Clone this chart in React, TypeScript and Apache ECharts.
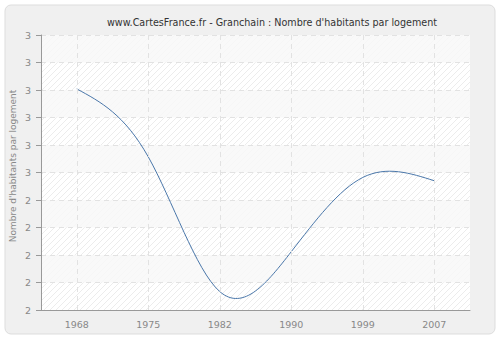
import React, { useEffect, useRef } from "react";
import * as echarts from "echarts";

const years = ["1968", "1975", "1982", "1990", "1999", "2007"];
const values = [2.804, 2.557, 2.067, 2.212, 2.482, 2.47];
const yMin = 2.0;
const yMax = 3.0;
const yStep = 0.1;

// natural cubic spline derivatives (uniform spacing in category index)
function splineSlopes(y: number[]): number[] {
  const n = y.length - 1;
  const M = new Array(n + 1).fill(0);
  if (n >= 2) {
    const m = n - 1;
    const a: number[] = [];
    const b: number[] = [];
    const c: number[] = [];
    const d: number[] = [];
    for (let i = 1; i < n; i++) {
      a.push(1);
      b.push(4);
      c.push(1);
      d.push(6 * (y[i + 1] - 2 * y[i] + y[i - 1]));
    }
    const cp = new Array(m).fill(0);
    const dp = new Array(m).fill(0);
    cp[0] = c[0] / b[0];
    dp[0] = d[0] / b[0];
    for (let i = 1; i < m; i++) {
      const den = b[i] - a[i] * cp[i - 1];
      cp[i] = c[i] / den;
      dp[i] = (d[i] - a[i] * dp[i - 1]) / den;
    }
    const sol = new Array(m).fill(0);
    sol[m - 1] = dp[m - 1];
    for (let i = m - 2; i >= 0; i--) sol[i] = dp[i] - cp[i] * sol[i + 1];
    for (let i = 1; i < n; i++) M[i] = sol[i - 1];
  }
  const s: number[] = [];
  for (let i = 0; i < n; i++) s.push(y[i + 1] - y[i] - (2 * M[i] + M[i + 1]) / 6);
  s.push(y[n] - y[n - 1] + (M[n - 1] + 2 * M[n]) / 6);
  return s;
}

function makeHatch(): HTMLCanvasElement {
  const c = document.createElement("canvas");
  c.width = 6;
  c.height = 6;
  const ctx = c.getContext("2d")!;
  ctx.fillStyle = "#ffffff";
  ctx.fillRect(0, 0, 6, 6);
  ctx.strokeStyle = "#ececec";
  ctx.lineWidth = 1;
  ctx.beginPath();
  ctx.moveTo(-1, 7);
  ctx.lineTo(7, -1);
  ctx.moveTo(-4, 4);
  ctx.lineTo(4, -4);
  ctx.moveTo(2, 10);
  ctx.lineTo(10, 2);
  ctx.stroke();
  return c;
}

export default function App() {
  const ref = useRef<HTMLDivElement>(null);
  useEffect(() => {
    document.body.style.margin = "0";
    const chart = echarts.init(ref.current!, null, { renderer: "svg" });
    const hatch = makeHatch();
    const slopes = splineSlopes(values);
    const grey = "#e2e2e2";
    chart.setOption({
      animation: false,
      backgroundColor: "#ffffff",
      graphic: [
        {
          type: "rect",
          shape: { x: 5, y: 5, width: 490, height: 329, r: 6 },
          style: { fill: "#f0f0f0", stroke: "#dddddd", lineWidth: 1 },
          z: -10,
          silent: true,
        },
        {
          type: "text",
          x: 13,
          y: 166,
          rotation: Math.PI / 2,
          style: {
            text: "Nombre d'habitants par logement",
            fill: "#888888",
            fontSize: 9,
            fontFamily: "DejaVu Sans",
            align: "center",
            verticalAlign: "middle",
          },
          silent: true,
        },
      ],
      title: {
        text: "www.CartesFrance.fr - Granchain : Nombre d'habitants par logement",
        left: 267,
        textAlign: "center",
        top: 12,
        textStyle: {
          fontFamily: "DejaVu Sans",
          fontSize: 9.6,
          fontWeight: "normal",
          color: "#333333",
        },
      },
      grid: {
        left: 41,
        top: 35,
        right: 30,
        bottom: 30,
        show: true,
        backgroundColor: { image: hatch, repeat: "repeat" },
        borderWidth: 0,
      },
      xAxis: {
        type: "category",
        data: years,
        boundaryGap: true,
        axisLine: { lineStyle: { color: "#999999" } },
        axisTick: { alignWithLabel: true, length: 5, lineStyle: { color: "#999999" } },
        axisLabel: { color: "#888888", fontSize: 9.5, fontFamily: "DejaVu Sans", margin: 9 },
        splitLine: { show: false },
      },
      yAxis: {
        type: "value",
        min: yMin,
        max: yMax,
        interval: yStep,
        axisLine: { show: true, lineStyle: { color: "#999999" } },
        axisTick: { show: true, length: 5, lineStyle: { color: "#999999" } },
        axisLabel: {
          color: "#888888",
          fontSize: 9.5,
          fontFamily: "DejaVu Sans",
          margin: 10,
          formatter: (v: number) => String(Math.round(v + 1e-9)),
        },
        splitLine: { show: true, lineStyle: { color: grey, type: [5, 4] } },
        splitArea: { show: true, areaStyle: { color: ["rgba(255,255,255,0)", "rgba(248,248,248,0.85)"] } },
      },
      series: [
        {
          type: "custom",
          data: values.map((v, i) => [i, v]),
          renderItem: (params: any, api: any) => {
            const i = api.value(0) as number;
            if (i >= values.length - 1) return null;
            const y0 = values[i];
            const y1 = values[i + 1];
            const p0 = api.coord([i, y0]);
            const p1 = api.coord([i + 1, y1]);
            const dx = (p1[0] - p0[0]) / 3;
            const c1y = api.coord([i, y0 + slopes[i] / 3])[1];
            const c2y = api.coord([i + 1, y1 - slopes[i + 1] / 3])[1];
            return {
              type: "bezierCurve",
              shape: {
                x1: p0[0],
                y1: p0[1],
                cpx1: p0[0] + dx,
                cpy1: c1y,
                cpx2: p1[0] - dx,
                cpy2: c2y,
                x2: p1[0],
                y2: p1[1],
              },
              style: { stroke: "#4a77aa", lineWidth: 1, fill: "none" },
            };
          },
          markLine: {
            silent: true,
            symbol: "none",
            label: { show: false },
            lineStyle: { color: grey, type: [5, 4], width: 1 },
            data: years.map((y) => ({ xAxis: y })),
          },
          z: 3,
        },
      ],
    });
    return () => chart.dispose();
  }, []);
  return <div ref={ref} style={{ width: 500, height: 340, position: "absolute", left: 0, top: 0 }} />;
}
